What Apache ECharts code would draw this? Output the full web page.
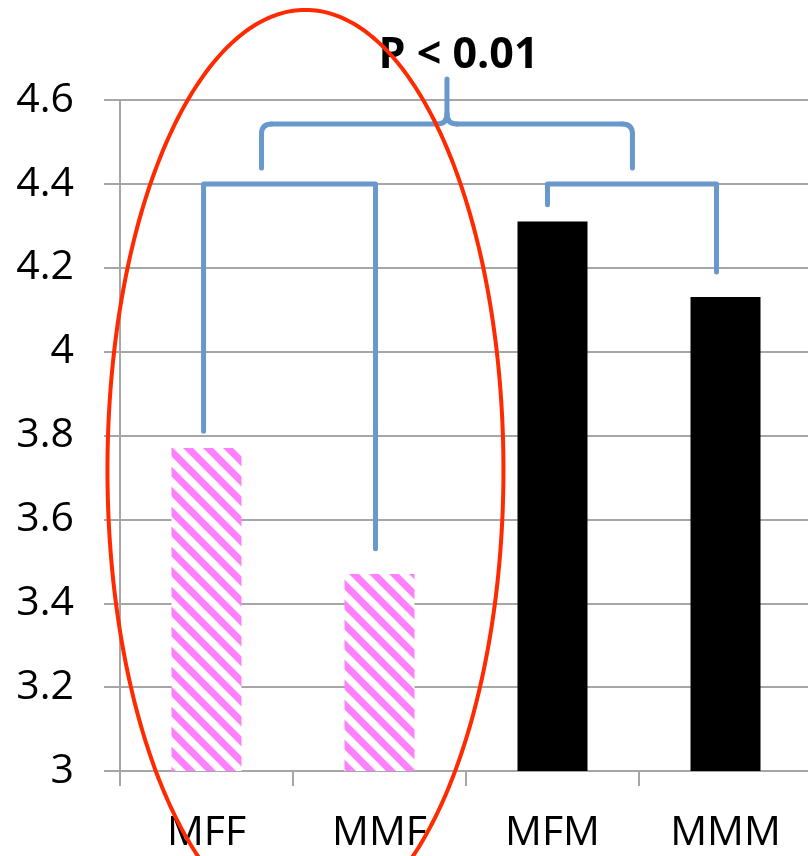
<!DOCTYPE html>
<html><head><meta charset="utf-8">
<script src="https://cdn.jsdelivr.net/npm/echarts@6/dist/echarts.min.js"></script>
<style>html,body{margin:0;padding:0;background:#fff;overflow:hidden}#c{width:812px;height:856px}</style>
</head><body><div id="c"></div>
<script>
// ---- data ----
const categories = ['MFF', 'MMF', 'MFM', 'MMM'];
const values = [3.77, 3.47, 4.31, 4.13];
const yMin = 3, yMax = 4.6, yStep = 0.2;
const pText = 'P < 0.01';
// annotation anchors (category index, value)
const pairFrom = [-0.017, 1.971];
const pairTo = [0.977, 2.948];
const pairTop = [4.4, 4.4];
const pairLeftEnd = [3.81, 4.35];
const pairRightEnd = [3.53, 4.19];
const braceLeft = 0.318, braceRight = 2.462, bracePeak = 1.39;
const braceBottom = 4.438, braceMid = 4.543, braceTip = 4.65;
const pTextPos = [1.457, 4.705];
const ellipseCenter = [0.572, 3.718];

// ---- stripe pattern ----
function stripes() {
  const s = 20, c = document.createElement('canvas');
  c.width = s; c.height = s;
  const g = c.getContext('2d');
  g.fillStyle = '#fff'; g.fillRect(0, 0, s, s);
  g.strokeStyle = '#ff80ff'; g.lineWidth = 7;
  for (let k = -1; k <= 1; k++) {
    g.beginPath(); g.moveTo(-s + k * s, -s); g.lineTo(2 * s + k * s, 2 * s); g.stroke();
  }
  return c;
}
const pattern = { image: stripes(), repeat: 'repeat' };

const chart = echarts.init(document.getElementById('c'), null, { renderer: 'canvas' });
const FONT = 'Open Sans';
chart.setOption({
  animation: false,
  grid: { left: 120, right: 0, top: 100, bottom: 85, containLabel: false },
  xAxis: {
    type: 'category', data: categories,
    axisLine: { lineStyle: { color: '#a6a6a6', width: 2 } },
    axisTick: { show: true, length: 15, lineStyle: { color: '#a6a6a6', width: 2 } },
    axisLabel: { color: '#000', fontSize: 41, fontFamily: FONT, margin: 42 }
  },
  yAxis: {
    type: 'value', min: yMin, max: yMax, interval: yStep,
    axisLine: { show: true, lineStyle: { color: '#a6a6a6', width: 2 } },
    axisTick: { show: true, length: 16, lineStyle: { color: '#a6a6a6', width: 2 } },
    splitLine: { lineStyle: { color: '#a6a6a6', width: 2 } },
    axisLabel: { color: '#000', fontSize: 41, fontFamily: FONT, margin: 46,
      formatter: v => String(Math.round(v * 10) / 10) }
  },
  series: [{
    type: 'bar', barWidth: 70,
    data: values.map((v, i) => ({ value: v, itemStyle: { color: i < 2 ? pattern : '#000' } }))
  }]
});

// ---- annotations ----
const px0 = chart.convertToPixel({ xAxisIndex: 0 }, 0);
const px1 = chart.convertToPixel({ xAxisIndex: 0 }, 1);
const X = i => px0 + i * (px1 - px0);
const Y = v => chart.convertToPixel({ yAxisIndex: 0 }, v);
const blue = '#6898cc';
const bs = { stroke: blue, lineWidth: 5, fill: null, lineCap: 'round', lineJoin: 'round' };
const gfx = [];
for (let k = 0; k < pairFrom.length; k++) {
  const xl = X(pairFrom[k]), xr = X(pairTo[k]), yt = Y(pairTop[k]);
  gfx.push({ type: 'polyline', z: 100, shape: { points: [[xl, Y(pairLeftEnd[k])], [xl, yt], [xr, yt], [xr, Y(pairRightEnd[k])]] }, style: bs });
}
{
  const xl = X(braceLeft), xr = X(braceRight), xp = X(bracePeak);
  const yb = Y(braceBottom), ym = Y(braceMid), yp = Y(braceTip), r = 10;
  gfx.push({ type: 'line', z: 100, shape: { x1: xl, y1: yb, x2: xl, y2: ym + r }, style: bs });
  gfx.push({ type: 'bezierCurve', z: 100, shape: { x1: xl, y1: ym + r, cpx1: xl, cpy1: ym, x2: xl + r, y2: ym }, style: bs });
  gfx.push({ type: 'line', z: 100, shape: { x1: xl + r, y1: ym, x2: xp - r, y2: ym }, style: bs });
  gfx.push({ type: 'bezierCurve', z: 100, shape: { x1: xp - r, y1: ym, cpx1: xp, cpy1: ym, x2: xp, y2: ym - r }, style: bs });
  gfx.push({ type: 'line', z: 100, shape: { x1: xp, y1: ym - r, x2: xp, y2: yp }, style: bs });
  gfx.push({ type: 'bezierCurve', z: 100, shape: { x1: xp + r, y1: ym, cpx1: xp, cpy1: ym, x2: xp, y2: ym - r }, style: bs });
  gfx.push({ type: 'line', z: 100, shape: { x1: xp + r, y1: ym, x2: xr - r, y2: ym }, style: bs });
  gfx.push({ type: 'bezierCurve', z: 100, shape: { x1: xr - r, y1: ym, cpx1: xr, cpy1: ym, x2: xr, y2: ym + r }, style: bs });
  gfx.push({ type: 'line', z: 100, shape: { x1: xr, y1: ym + r, x2: xr, y2: yb }, style: bs });
}
gfx.push({ type: 'text', z: 100, x: X(pTextPos[0]), y: Y(pTextPos[1]),
  style: { text: pText, fontSize: 43, fontWeight: 'bold', fontFamily: FONT, fill: '#000', textAlign: 'center', textVerticalAlign: 'middle' } });
{
  const cx = X(ellipseCenter[0]), cy = Y(ellipseCenter[1]), rx = 198, ry = 460;
  const pts = [];
  for (let t = 0; t <= 360; t++) { const a = t * Math.PI / 180; pts.push([cx + rx * Math.cos(a), cy + ry * Math.sin(a)]); }
  gfx.push({ type: 'polyline', z: 200, shape: { points: pts }, style: { stroke: '#ff2a00', lineWidth: 4, fill: null } });
}
chart.setOption({ graphic: gfx });
</script></body></html>
